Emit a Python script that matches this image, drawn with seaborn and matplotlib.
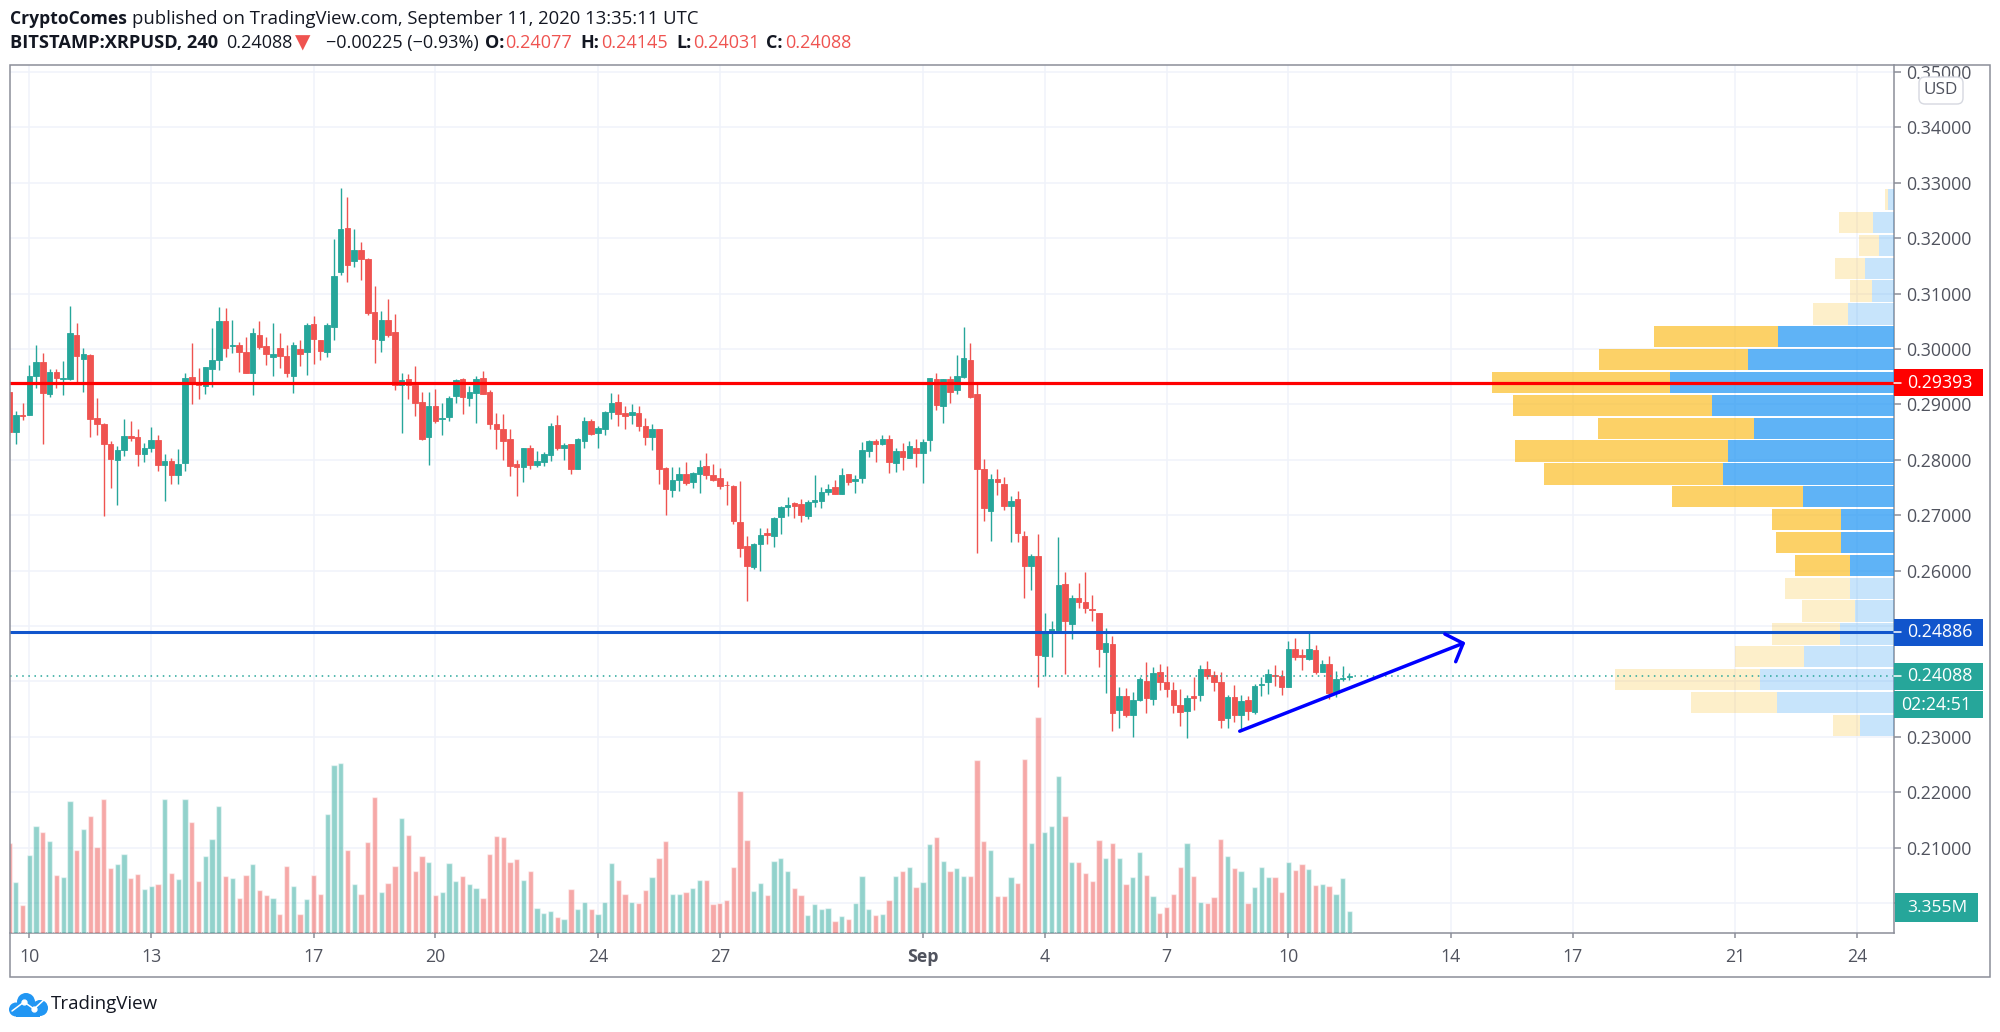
import numpy as np
import pandas as pd
import matplotlib
matplotlib.use("Agg")
import matplotlib.pyplot as plt
from matplotlib.patches import Rectangle, FancyBboxPatch, Circle
from matplotlib.lines import Line2D
import seaborn as sns

PRICE_STEP = 1e-4  # the OHLC lists are in units of 0.0001 USD
OPEN = [2923,2850,2881,2881,2951,2976,2918,2958,2945,2945,3026,2982,2989,2876,2865,2828,2800,2817,2843,2841,
2810,2821,2835,2790,2797,2773,2794,2950,2939,2933,2964,2980,3050,3006,3007,2994,2957,3026,3005,2986,
3001,2987,2951,3000,2995,3045,3016,2995,3039,3139,3218,3158,3179,3162,3066,3016,3053,3030,2935,2945,
2935,2904,2841,2897,2873,2877,2915,2945,2912,2920,2947,2922,2865,2855,2837,2792,2786,2822,2790,2796,
2809,2862,2821,2828,2784,2833,2870,2849,2856,2886,2905,2885,2880,2885,2860,2841,2855,2785,2745,2763,
2775,2759,2775,2789,2772,2767,2755,2752,2687,2644,2606,2647,2667,2663,2696,2715,2721,2720,2698,2724,
2726,2742,2750,2739,2775,2761,2767,2816,2834,2828,2837,2794,2816,2804,2822,2812,2835,2945,2897,2945,
2925,2950,2980,2918,2783,2707,2766,2756,2717,2729,2663,2609,2626,2446,2490,2493,2575,2503,2550,2544,
2530,2523,2453,2467,2348,2373,2340,2366,2400,2368,2417,2398,2384,2358,2346,2373,2375,2422,2411,2399,
2333,2372,2339,2366,2345,2393,2399,2412,2409,2390,2459,2448,2441,2456,2417,2432,2379,2404,2408]
HIGH = [2929,2888,2903,2971,3007,2992,2963,2963,2979,3078,3046,3001,2991,2911,2866,2833,2825,2874,2870,2855,
2831,2859,2844,2810,2803,2820,2957,3010,2966,2967,3037,3076,3073,3053,3013,3022,3037,3050,3021,3046,
3029,3007,3013,3017,3046,3059,3016,3046,3199,3290,3274,3217,3193,3165,3113,3068,3090,3063,2956,2955,
2969,2922,2923,2927,2902,2915,2946,2947,2933,2951,2960,2926,2885,2882,2855,2799,2822,2826,2816,2814,
2867,2881,2831,2828,2839,2877,2873,2861,2888,2921,2918,2897,2900,2897,2876,2864,2856,2787,2786,2787,
2796,2778,2799,2812,2792,2785,2761,2755,2762,2662,2649,2677,2677,2697,2716,2733,2724,2730,2727,2772,
2751,2757,2763,2785,2775,2772,2832,2835,2838,2844,2844,2822,2831,2833,2837,2838,2948,2957,2945,2952,
2989,3040,3010,2938,2802,2775,2784,2768,2734,2743,2671,2630,2666,2523,2508,2660,2598,2556,2577,2597,
2555,2524,2496,2482,2390,2388,2380,2407,2434,2425,2432,2428,2399,2386,2375,2408,2430,2437,2419,2417,
2375,2393,2376,2373,2396,2408,2422,2430,2420,2472,2479,2458,2488,2465,2438,2446,2419,2428,2415]
LOW = [2844,2828,2871,2881,2929,2828,2914,2930,2917,2944,2941,2923,2841,2844,2699,2749,2719,2807,2833,2788,
2796,2814,2780,2725,2756,2757,2780,2900,2910,2918,2932,2962,2986,2993,2958,2956,2916,3000,2971,2951,
2966,2950,2920,2970,2953,2973,2980,2985,3017,3133,3121,3148,3125,3061,2975,2995,3021,2926,2849,2909,
2879,2836,2790,2867,2844,2869,2903,2882,2897,2867,2918,2855,2820,2800,2771,2734,2760,2783,2786,2788,
2798,2817,2800,2775,2783,2821,2845,2822,2845,2874,2861,2855,2864,2852,2826,2817,2756,2700,2733,2744,
2755,2749,2740,2765,2762,2747,2719,2684,2625,2545,2603,2600,2647,2642,2666,2698,2695,2688,2693,2715,
2712,2737,2738,2739,2754,2740,2758,2805,2796,2826,2776,2778,2782,2803,2786,2758,2816,2890,2867,2902,
2919,2948,2912,2632,2690,2653,2737,2709,2652,2652,2550,2564,2389,2410,2443,2491,2414,2476,2533,2524,
2508,2425,2379,2310,2315,2335,2299,2365,2343,2358,2384,2372,2342,2320,2298,2348,2364,2404,2383,2315,
2315,2327,2310,2330,2341,2374,2378,2392,2375,2389,2438,2420,2438,2414,2416,2368,2372,2401,2403]
CLOSE = [2850,2881,2879,2951,2977,2921,2958,2948,2947,3028,2988,2991,2874,2865,2829,2802,2817,2843,2840,2811,
2821,2835,2791,2797,2773,2792,2947,2938,2934,2967,2980,3050,3002,3007,2995,2957,3028,3003,2991,2990,
2988,2957,3007,2991,3044,3018,2997,3044,3132,3217,3152,3179,3162,3065,3018,3052,3025,2935,2944,2935,
2903,2837,2897,2870,2876,2912,2944,2914,2923,2946,2919,2865,2856,2833,2788,2786,2822,2790,2797,2810,
2861,2822,2827,2784,2838,2870,2847,2858,2887,2903,2883,2879,2886,2861,2841,2856,2784,2748,2764,2775,
2758,2776,2786,2773,2763,2753,2754,2689,2641,2609,2647,2665,2664,2695,2715,2719,2716,2700,2724,2727,
2741,2748,2739,2772,2760,2766,2817,2834,2828,2837,2795,2816,2805,2825,2812,2832,2947,2899,2945,2922,
2951,2983,2913,2784,2712,2766,2759,2717,2725,2668,2609,2626,2448,2491,2494,2573,2508,2551,2544,2533,
2529,2458,2469,2342,2373,2339,2367,2405,2370,2415,2398,2387,2357,2345,2370,2370,2422,2410,2398,2331,
2372,2339,2364,2346,2391,2396,2413,2410,2390,2458,2444,2443,2458,2417,2431,2379,2405,2406,2409]
VOLUME_M = [13.8,7.8,4.3,11.9,16.3,15.4,14.0,8.8,8.5,20.1,12.6,15.8,17.9,13.1,20.5,9.9,10.6,12.0,8.4,9.0,
6.7,7.2,7.4,20.4,9.1,8.3,20.5,17.0,8.0,11.7,14.3,19.3,8.7,8.4,5.4,8.9,10.6,6.5,5.8,5.3,
2.9,10.2,7.2,2.9,5.2,8.9,6.0,18.2,25.7,26.0,12.7,7.4,5.9,13.9,20.8,6.2,7.6,10.2,17.5,15.0,
9.4,11.8,10.9,5.8,6.2,10.7,8.0,8.7,7.4,6.9,5.4,12.0,14.8,14.6,10.9,11.3,8.1,9.4,3.8,3.1,
3.3,2.5,2.1,6.7,3.7,4.7,3.7,2.9,4.8,10.7,8.1,6.0,4.7,4.6,6.5,8.6,11.5,14.0,6.0,5.9,
6.2,6.9,8.1,8.1,4.4,4.5,5.1,10.0,21.6,14.2,6.4,7.6,5.8,11.0,11.4,9.4,6.9,5.8,2.8,4.4,
3.7,3.8,1.9,2.6,2.1,4.5,8.7,3.6,2.8,2.9,5.1,8.7,9.4,10.0,7.0,7.8,13.5,14.6,11.0,9.5,
9.9,8.7,8.7,26.4,14.0,12.7,5.6,5.6,8.6,7.7,26.5,13.7,32.9,15.4,16.3,23.9,17.9,10.9,10.8,9.1,
7.9,14.2,11.4,13.7,11.5,7.5,8.5,12.4,8.9,5.7,3.1,4.0,6.0,10.1,13.7,8.7,4.7,4.5,5.5,14.4,
11.7,9.9,9.4,4.5,7.0,10.1,8.5,8.6,6.2,10.8,9.6,10.5,9.7,7.3,7.4,7.2,5.9,8.4,3.355]
FIRST_BAR = -3   # bars are numbered from the session labelled "10"

# visible-range volume profile, top row first
PROFILE_UP = [1.1,4.1,3.0,5.7,4.3,9.1,23.1,29.1,44.8,36.3,27.9,33.1,34.1,18.2,10.5,10.5,8.7,8.7,7.7,10.7,17.9,26.7,23.3,6.8]
PROFILE_DOWN = [0.7,6.9,3.9,6.0,4.5,7.0,24.8,29.9,35.5,39.9,31.2,42.7,35.9,26.1,13.8,13.1,11.1,13.1,10.7,13.7,13.9,29.1,17.3,5.3]
PROFILE_IN_AREA = [0]*6 + [1]*11 + [0]*7
PROFILE_TOP, PROFILE_BOTTOM = 0.3290, 0.2300

RESISTANCE, SUPPORT, LAST_PRICE = 0.29393, 0.24886, 0.24088
ARROW_BARS = [178.8, 211.8]
ARROW_PRICES = [0.2310, 0.24686]
ARROW_HEAD_BARS = [209.1, 211.8, 210.7]
ARROW_HEAD_PRICES = [0.24854, 0.24686, 0.24354]

DATE_TICKS = [0, 18, 42, 60, 84, 102, 132, 150, 168, 186, 210, 228, 252, 270]
DATE_LABELS = ["10","13","17","20","24","27","Sep","4","7","10","14","17","21","24"]
PRICE_TICKS = [0.20 + 0.01*k for k in range(16)]
PRICE_LABELS_HIDDEN_BY_TAGS = ["0.20000", "0.24000", "0.25000"]

UP, DOWN = "#26A69A", "#EF5350"
GRID, FRAME, LABEL, INK = "#F0F3FA", "#8B8E99", "#50535E", "#131722"
FONT = "Open Sans"

sns.set_theme(style="whitegrid", rc={
    "grid.color": GRID, "grid.linewidth": 1.1, "axes.facecolor": "white",
    "figure.facecolor": "white", "axes.edgecolor": FRAME})
plt.rcParams["font.family"] = [FONT, "DejaVu Sans"]

W, H = 2000, 1032
fig = plt.figure(figsize=(W/100, H/100), dpi=100)
L_, R_, T_, B_ = 10, 1893.7, 65, 933
rect = [L_/W, 1-B_/H, (R_-L_)/W, (B_-T_)/H]
ax = fig.add_axes(rect, zorder=1)
ax_vol = fig.add_axes(rect, zorder=2, facecolor="none")
ax_prof = fig.add_axes(rect, zorder=3, facecolor="none", sharey=ax)
ax_top = fig.add_axes(rect, zorder=4, facecolor="none", sharex=ax, sharey=ax)

XLIM = (-2.85, 275.4)
YLIM = (0.19457, 0.35125)
bars = np.arange(FIRST_BAR, FIRST_BAR + len(CLOSE))
o, h, l, c = (np.array(a, float)*PRICE_STEP for a in (OPEN, HIGH, LOW, CLOSE))
up = c >= o
colors = np.where(up, UP, DOWN)

# candles
ax.vlines(bars, l, h, colors=colors, linewidth=1.0, zorder=3)
ax.bar(bars, np.abs(c-o), bottom=np.minimum(o, c), width=0.82, color=colors, edgecolor=colors,
       linewidth=0.6, zorder=4)
ax.set_xlim(*XLIM); ax.set_ylim(*YLIM)
ax.set_xticks(DATE_TICKS); ax.set_xticklabels(DATE_LABELS)
ax.set_yticks(PRICE_TICKS)
price_labels = [f"{p:.5f}" for p in PRICE_TICKS]
ax.set_yticklabels(["" if s in PRICE_LABELS_HIDDEN_BY_TAGS else s for s in price_labels])
ax.yaxis.tick_right()
ax.tick_params(axis="y", right=True, left=False, direction="out", length=5, width=1.1, color=FRAME,
               labelcolor=LABEL, labelsize=12.8, pad=4)
ax.tick_params(axis="x", bottom=True, direction="out", length=3.6, width=1.1, color=FRAME,
               labelcolor=LABEL, labelsize=12.8, pad=7)
for t, s in zip(ax.get_xticklabels(), DATE_LABELS):
    if s == "Sep":
        t.set_fontweight("bold")
ax.grid(True, color=GRID, linewidth=1.1)
ax.set_axisbelow(True)
for side in ("top", "left"):
    ax.spines[side].set_visible(False)
for side in ("right", "bottom"):
    ax.spines[side].set_color(FRAME); ax.spines[side].set_linewidth(1.1)

# volume
vol = pd.DataFrame({"bar": bars, "vol": VOLUME_M, "dir": np.where(up, "up", "down")})
sns.barplot(data=vol, x="bar", y="vol", hue="dir", palette={"up": UP, "down": DOWN}, native_scale=True,
            dodge=False, width=0.78, alpha=0.5, legend=False, ax=ax_vol, errorbar=None, saturation=1)
ax_vol.set_xlim(*XLIM); ax_vol.set_ylim(0, 132.4); ax_vol.axis("off")

# volume profile (bars grow from the price scale to the left)
row = (PROFILE_TOP - PROFILE_BOTTOM)/len(PROFILE_UP)
centers = PROFILE_TOP - row*(np.arange(len(PROFILE_UP)) + 0.5)
pu, pd_ = np.array(PROFILE_UP), np.array(PROFILE_DOWN)
alphas = np.where(np.array(PROFILE_IN_AREA) == 1, 0.72, 0.25)
for y, u, d, a in zip(centers, pu, pd_, alphas):
    ax_prof.barh(y, u, height=row*0.93, color="#2196F3", alpha=a, linewidth=0)
    ax_prof.barh(y, d, left=u, height=row*0.93, color="#FBC02D", alpha=a, linewidth=0)
ax_prof.set_xlim((R_-L_)/5, 0); ax_prof.set_ylim(*YLIM); ax_prof.axis("off")

# levels and drawing
ax_top.axhline(RESISTANCE, color="#FF0000", linewidth=2.3)
ax_top.axhline(SUPPORT, color="#1155CC", linewidth=2.2)
ax_top.axhline(LAST_PRICE, color=UP, linewidth=1.1, linestyle=(0, (1, 3)))
ax_top.plot(ARROW_BARS, ARROW_PRICES, color="#0000FF", linewidth=2.5, solid_capstyle="round")
ax_top.plot(ARROW_HEAD_BARS, ARROW_HEAD_PRICES, color="#0000FF", linewidth=2.5, solid_capstyle="round",
            solid_joinstyle="round")
ax_top.axis("off")

# pixel helpers (overlay furniture only)
def fx(x): return x/W
def fy(y): return 1 - y/H
def frect(x0, y0, x1, y1, **kw):
    r = Rectangle((fx(x0), fy(y1)), (x1-x0)/W, (y1-y0)/H, transform=fig.transFigure, **kw)
    fig.add_artist(r); return r
def ftext(x, y, s, **kw):
    kw.setdefault("va", "center"); kw.setdefault("ha", "left")
    kw.setdefault("zorder", 12)
    return fig.text(fx(x), fy(y), s, **kw)
def price_px(p):
    return H - ax.transData.transform((0, p))[1]

# outer frame
frect(10, 65, 1990, 977, fill=False, edgecolor=FRAME, linewidth=1.1, zorder=9)

# price tags
def tag(y0, y1, color, s, x_text=1906.7, tick=True, size=12.8, x1=1983, ha="left", x0=1893.7):
    frect(x0, y0, x1, y1, facecolor=color, edgecolor="none", zorder=10)
    ymid = (y0+y1)/2
    if tick:
        fig.add_artist(Line2D([fx(1894), fx(1900.7)], [fy(ymid)]*2, color="white", lw=1.1, zorder=11))
    ftext(x_text, ymid, s, color="white", fontsize=size, ha=ha)

for price, col in ((RESISTANCE, "#FF0000"), (SUPPORT, "#1155CC")):
    m = price_px(price)
    tag(m-13.3, m+13.3, col, f"{price:.5f}")
m = price_px(LAST_PRICE)
tag(m-13.7, m+13.7, UP, f"{LAST_PRICE:.5f}")
tag(m+14.7, m+41.7, UP, "02:24:51", x_text=1900.7, tick=False)
tag(893, 922, UP, "3.355M", x_text=1906.7, tick=False, x1=1978, x0=1895, size=12.5)

# USD button
fig.add_artist(FancyBboxPatch((fx(1922), fy(101)), 38/W, 21/H, boxstyle="round,pad=0.0015,rounding_size=0.003",
                              transform=fig.transFigure, facecolor="white", edgecolor="#D6D8E0",
                              linewidth=1.0, zorder=10, mutation_aspect=W/H))
ftext(1941, 90.5, "USD", color=LABEL, fontsize=12.3, ha="center")

# header
HS = 13.0
ftext(9.8, 19, "CryptoComes", color=INK, fontsize=12.6, fontweight="bold")
ftext(132, 19, "published on TradingView.com, September 11, 2020 13:35:11 UTC", color=INK, fontsize=13.36)
ftext(9.8, 43, "BITSTAMP:XRPUSD, 240", color=INK, fontsize=13.15, fontweight="bold")
ftext(226, 43, "0.24088", color=INK, fontsize=HS)
ftext(295, 43, "▼", color=DOWN, fontsize=14.5, family="DejaVu Sans")
ftext(326, 43, "−0.00225 (−0.93%)", color=INK, fontsize=HS)
for x_key, key, x_val, val in ((484.5, "O:", 505, "0.24077"), (580, "H:", 601, "0.24145"),
                               (676, "L:", 693, "0.24031"), (766, "C:", 785, "0.24088")):
    ftext(x_key, 43, key, color=INK, fontsize=HS, fontweight="bold")
    ftext(x_val, 43, val, color=DOWN, fontsize=HS)

# TradingView logo
logo = fig.add_axes([9/W, 1-1017/H, 39/W, 24/H], zorder=12)
logo.set_xlim(0, 39); logo.set_ylim(24, 0); logo.axis("off")
for cx, cy, rad in ((7, 16.5, 7), (17, 9, 9), (31, 15, 8)):
    logo.add_patch(Circle((cx, cy), rad, color="#2196F3", lw=0))
logo.add_patch(Rectangle((7, 15), 24, 8.6, color="#2196F3", lw=0))
logo.plot([3, 15, 25, 37], [18, 9, 16, 5], color="white", lw=1.1)
logo.plot([15, 25], [9, 16], "o", color="white", ms=3.5)
ftext(51, 1004, "TradingView", color=INK, fontsize=13.5)

fig.savefig("out.png", dpi=100)
